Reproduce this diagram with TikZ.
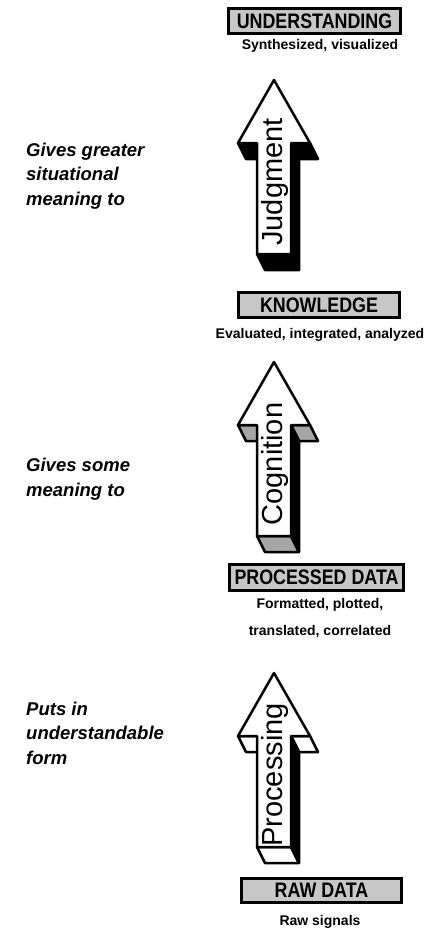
\documentclass[tikz,border=0pt]{standalone}
\usepackage{fontspec}
\setmainfont{Liberation Sans}
\newfontfamily\lvlfont[FakeStretch=0.85]{Liberation Sans}
\tikzset{
	lvlbox/.style={draw=black,line width=3pt,fill=black!22,inner sep=0pt,font=\lvlfont\fontsize{21}{21}\selectfont\bfseries},
	lvlnote/.style={font=\fontsize{14}{27}\selectfont\bfseries,align=center,inner sep=0pt},
	sidenote/.style={font=\fontsize{18.5}{24.5}\selectfont\bfseries\itshape,align=left,inner sep=0pt,anchor=base west},
	arrowlbl/.style={rotate=90,anchor=base,inner sep=0pt,font=\fontsize{29}{29}\selectfont},
	faceline/.style={draw=black,line width=2.5pt,line join=round}
}
\begin{document}
\begin{tikzpicture}[x=1pt,y=-1pt]
	\useasboundingbox[fill=white] (0,0) rectangle (429,940);
	% the four levels
	\node[lvlbox,minimum width=172pt,minimum height=25pt] (und) at (314.5,21) {UNDERSTANDING};
	\node[lvlnote] (undnote) at (320,46) {Synthesized, visualized};
	\node[lvlbox,minimum width=161pt,minimum height=25pt] (know) at (319,305) {KNOWLEDGE};
	\node[lvlnote] (knownote) at (320,335) {Evaluated, integrated, analyzed};
	\node[lvlbox,minimum width=174pt,minimum height=26pt] (proc) at (316.5,577.5) {PROCESSED DATA};
	\node[lvlnote] (procnote) at (320,618) {Formatted, plotted,\\translated, correlated};
	\node[lvlbox,minimum width=160pt,minimum height=24pt] (raw) at (321.5,890.5) {RAW DATA};
	\node[lvlnote] (rawnote) at (320,922) {Raw signals};
	% side remarks (anchored at the last line)
	\node[sidenote] (toknow) at (26,205) {Gives greater\\situational\\meaning to};
	\node[sidenote] (toproc) at (26,496) {Gives some\\meaning to};
	\node[sidenote] (toraw) at (26,764) {Puts in\\understandable\\form};
	% block arrows, extruded towards the lower right
	\foreach \ty/\face/\word [count=\i] in {80/black/Judgment,362/black!35/Cognition,673/white/Processing}{
		\begin{scope}[shift={(274,\ty)}]
			\draw[faceline,fill=\face] (-36,63) -- (-17,63) -- (-9,79) -- (-28,79) -- cycle;
			\draw[faceline,fill=\face] (17,63) -- (36,63) -- (44,79) -- (25,79) -- cycle;
			\draw[faceline,fill=\face] (-17,174) -- (17,174) -- (25,190) -- (-9,190) -- cycle;
			\draw[faceline,fill=black] (17,63) -- (17,174) -- (25,190) -- (25,79) -- cycle;
			\draw[faceline,fill=white] (0,0) -- (36,63) -- (17,63) -- (17,174) -- (-17,174) -- (-17,63) -- (-36,63) -- cycle;
			\node[arrowlbl] (lbl\i) at (8,102) {\word};
		\end{scope}
	}
\end{tikzpicture}
\end{document}
